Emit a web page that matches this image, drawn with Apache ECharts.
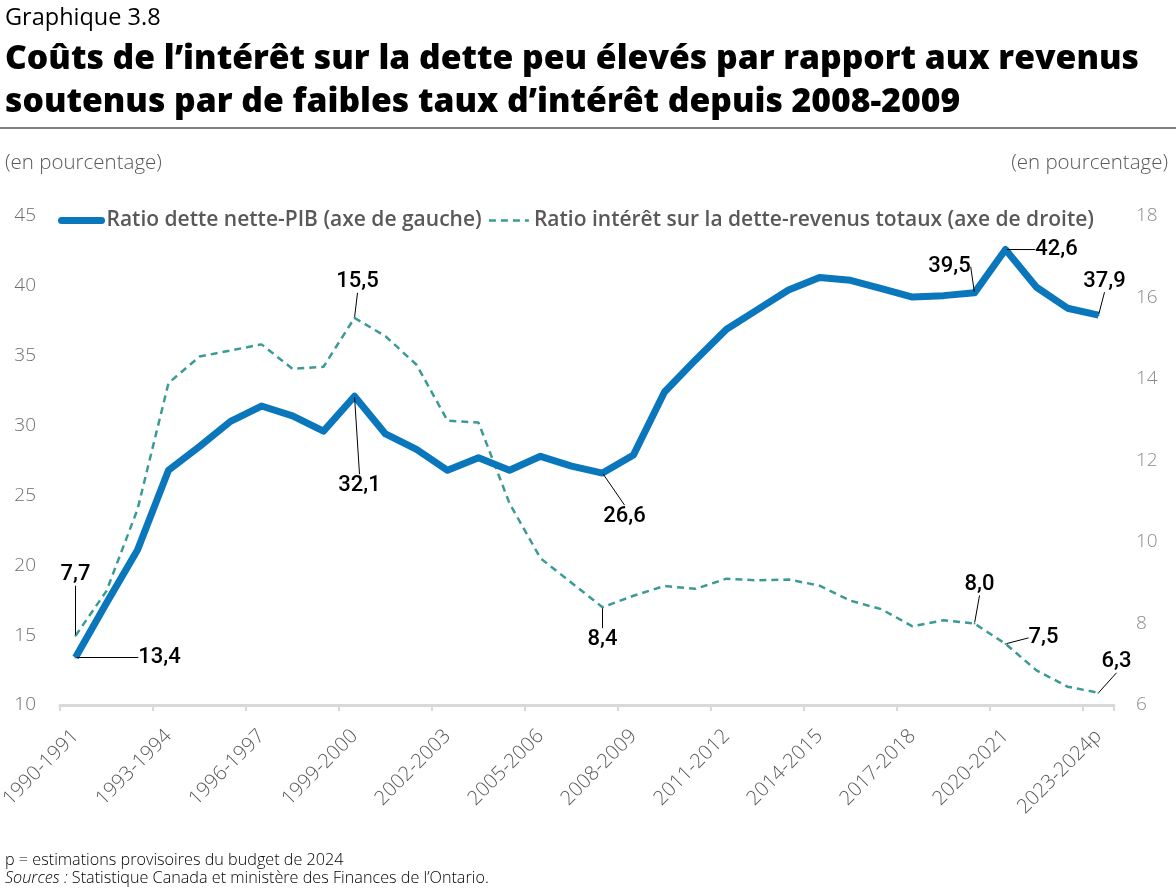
<!DOCTYPE html>
<html>
<head>
<meta charset="utf-8">
<script src="https://cdn.jsdelivr.net/npm/echarts@6/dist/echarts.min.js"></script>
<style>
  html, body { margin: 0; padding: 0; background: #fff; }
  #chart { width: 1176px; height: 888px; }
</style>
</head>
<body>
<div id="chart"></div>
<script>
// exercices financiers
var years = ['1990-1991', '1991-1992', '1992-1993', '1993-1994', '1994-1995', '1995-1996',
  '1996-1997', '1997-1998', '1998-1999', '1999-2000', '2000-2001', '2001-2002', '2002-2003',
  '2003-2004', '2004-2005', '2005-2006', '2006-2007', '2007-2008', '2008-2009', '2009-2010',
  '2010-2011', '2011-2012', '2012-2013', '2013-2014', '2014-2015', '2015-2016', '2016-2017',
  '2017-2018', '2018-2019', '2019-2020', '2020-2021', '2021-2022', '2022-2023', '2023-2024p'];

// ratio dette nette-PIB (axe de gauche)
var debtToGdp = [13.4, 17.3, 21.1, 26.8, 28.5, 30.3, 31.4, 30.7, 29.6, 32.1, 29.4, 28.3, 26.8,
  27.7, 26.8, 27.8, 27.1, 26.6, 27.9, 32.4, 34.7, 36.9, 38.3, 39.7, 40.6, 40.4, 39.8,
  39.2, 39.3, 39.5, 42.6, 39.9, 38.4, 37.9];

// ratio intérêt sur la dette-revenus totaux (axe de droite)
var interestToRevenue = [7.7, 8.8, 10.8, 13.9, 14.55, 14.7, 14.85, 14.25, 14.3, 15.5, 15.05, 14.35, 12.98,
  12.93, 10.95, 9.6, 9.0, 8.4, 8.68, 8.92, 8.85, 9.1, 9.06, 9.08, 8.93, 8.56, 8.35,
  7.93, 8.08, 8.0, 7.5, 6.85, 6.45, 6.3];

// points annotés
var debtLabelled = [0, 9, 17, 29, 30, 33];
var interestLabelled = [0, 9, 17, 29, 30, 33];

var leftTicks = [10, 45, 5];   // min, max, interval
var rightTicks = [6, 18, 2];

// décalage des étiquettes (centre de l'étiquette par rapport au point)
var debtOffsets = { 0: [84, 0], 9: [5, 89], 17: [22, 43], 29: [-25, -26], 30: [51, 0], 33: [6, -34] };
var interestOffsets = { 0: [0, -61], 9: [3, -36], 17: [0, 32], 29: [5, -39], 30: [38, -6], 33: [18, -31] };

function fr(v) { return v.toFixed(1).replace('.', ','); }

function buildData(values, labelled, color) {
  return values.map(function (v, i) {
    if (labelled.indexOf(i) < 0) return v;
    return {
      value: v,
      symbol: 'circle',
      symbolSize: 2,
      itemStyle: { color: color },
      label: {
        show: true,
        position: 'inside',
        formatter: function (p) { return fr(p.value); },
        color: '#000',
        fontFamily: 'Roboto',
        fontSize: 22,
        fontWeight: 500
      },
      labelLine: { show: true, lineStyle: { color: '#000', width: 1 } }
    };
  });
}

var blue = '#0a77bd';
var teal = '#3b9a95';
var font = 'Open Sans';

var myChart = echarts.init(document.getElementById('chart'), null, { renderer: 'canvas' });

var option = {
  animation: false,
  backgroundColor: '#fff',
  title: [
    { text: 'Graphique 3.8', left: 0, top: 1,
      textStyle: { fontFamily: font, fontSize: 23.5, fontWeight: 400, color: '#000' } },
    { text: 'Coûts de l’intérêt sur la dette peu élevés par rapport aux revenus\nsoutenus par de faibles taux d’intérêt depuis 2008-2009',
      left: 0, top: 33,
      textStyle: { fontFamily: font, fontSize: 33.7, fontWeight: 800, color: '#000', lineHeight: 43 } },
    { text: '(en pourcentage)', left: 0, top: 148,
      textStyle: { fontFamily: font, fontSize: 20.5, fontWeight: 300, color: '#595959' } },
    { text: '(en pourcentage)', right: 3, top: 148,
      textStyle: { fontFamily: font, fontSize: 20.5, fontWeight: 300, color: '#595959' } },
    { text: 'p = estimations provisoires du budget de 2024\n{i|Sources :} Statistique Canada et ministère des Finances de l’Ontario.',
      left: 0, top: 846,
      textStyle: { fontFamily: font, fontSize: 16.2, fontWeight: 300, color: '#000', lineHeight: 18,
        rich: { i: { fontFamily: font, fontSize: 16.2, fontWeight: 300, fontStyle: 'italic', color: '#000' } } } }
  ],
  graphic: [
    { type: 'line', shape: { x1: 0, y1: 128, x2: 1176, y2: 128 }, style: { stroke: '#000', lineWidth: 1 } }
  ],
  legend: {
    left: 53, top: 205,
    itemWidth: 40, itemHeight: 14, itemGap: 6,
    textStyle: { fontFamily: font, fontSize: 21, fontWeight: 600, color: '#595959' },
    data: [
      { name: 'Ratio dette nette-PIB (axe de gauche)', itemStyle: { opacity: 0 },
        lineStyle: { width: 7, cap: 'round' } },
      { name: 'Ratio intérêt sur la dette-revenus totaux (axe de droite)', itemStyle: { opacity: 0 },
        lineStyle: { width: 2.5, type: [7, 5] } }
    ]
  },
  grid: { left: 60, right: 62, top: 216, bottom: 183, containLabel: false, outerBoundsMode: 'none' },
  xAxis: {
    type: 'category',
    data: years,
    boundaryGap: true,
    axisLine: { lineStyle: { color: '#d9d9d9', width: 3 } },
    axisTick: { show: true, interval: 2, length: 6, lineStyle: { color: '#d9d9d9', width: 2 } },
    axisLabel: { interval: 2, rotate: 45, margin: 28,
      fontFamily: font, fontSize: 20, fontWeight: 300, color: '#595959' }
  },
  yAxis: [
    { type: 'value', position: 'left', min: leftTicks[0], max: leftTicks[1], interval: leftTicks[2],
      splitLine: { show: false }, axisLine: { show: false }, axisTick: { show: false },
      axisLabel: { margin: 24, fontFamily: font, fontSize: 19, fontWeight: 300, color: '#6f6f6f' } },
    { type: 'value', position: 'right', min: rightTicks[0], max: rightTicks[1], interval: rightTicks[2],
      splitLine: { show: false }, axisLine: { show: false }, axisTick: { show: false },
      axisLabel: { margin: 22, fontFamily: font, fontSize: 19, fontWeight: 300, color: '#8c8c8c' } }
  ],
  series: [
    {
      name: 'Ratio dette nette-PIB (axe de gauche)',
      type: 'line',
      yAxisIndex: 0,
      symbol: 'none',
      color: blue,
      lineStyle: { color: blue, width: 7, join: 'round' },
      data: buildData(debtToGdp, debtLabelled, blue),
      labelLayout: function (p) {
        var o = debtOffsets[p.dataIndex] || [0, 0];
        return { dx: o[0], dy: o[1] };
      },
      z: 3
    },
    {
      name: 'Ratio intérêt sur la dette-revenus totaux (axe de droite)',
      type: 'line',
      yAxisIndex: 1,
      symbol: 'none',
      color: teal,
      lineStyle: { color: teal, width: 2.5, type: [7, 5] },
      data: buildData(interestToRevenue, interestLabelled, teal),
      labelLayout: function (p) {
        var o = interestOffsets[p.dataIndex] || [0, 0];
        return { dx: o[0], dy: o[1] };
      },
      z: 2
    }
  ]
};

myChart.setOption(option);
</script>
</body>
</html>
